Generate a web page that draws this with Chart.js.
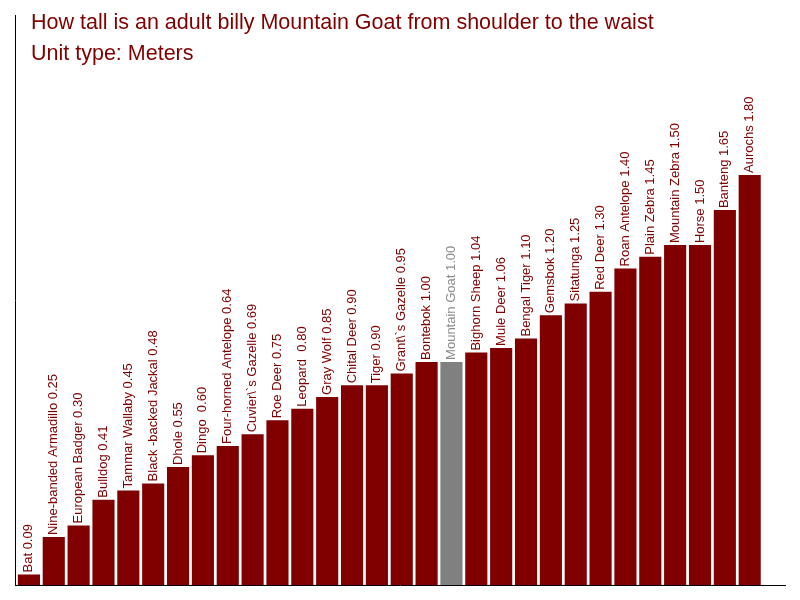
<!DOCTYPE html>
<html>
<head>
<meta charset="utf-8">
<script src="https://cdn.jsdelivr.net/npm/chart.js@4"></script>
<style>
  html, body { margin: 0; padding: 0; background: #fff; }
  canvas { display: block; }
</style>
</head>
<body>
<canvas id="goatChart" width="800" height="600"></canvas>
<script>
// animal names and shoulder heights (m)
const animals = [
    'Bat', 'Nine-banded Armadillo', 'European Badger', 'Bulldog', 'Tammar Wallaby',
    'Black -backed Jackal', 'Dhole', 'Dingo ', 'Four-horned Antelope', 'Cuvier\\`s Gazelle',
    'Roe Deer', 'Leopard ', 'Gray Wolf', 'Chital Deer', 'Tiger',
    'Grant\\`s Gazelle', 'Bontebok', 'Mountain Goat', 'Bighorn Sheep', 'Mule Deer',
    'Bengal Tiger', 'Gemsbok', 'Sitatunga', 'Red Deer', 'Roan Antelope',
    'Plain Zebra', 'Mountain Zebra', 'Horse', 'Banteng', 'Aurochs'
];
const heights = [
    0.09, 0.25, 0.30, 0.41, 0.45,
    0.48, 0.55, 0.60, 0.64, 0.69,
    0.75, 0.80, 0.85, 0.90, 0.90,
    0.95, 1.00, 1.00, 1.04, 1.06,
    1.10, 1.20, 1.25, 1.30, 1.40,
    1.45, 1.50, 1.50, 1.65, 1.80
];
const highlight = 'Mountain Goat';
const titleLines = [
    'How tall is an adult billy Mountain Goat from shoulder to the waist',
    'Unit type: Meters'
];

const barColor = '#800000';
const goatColor = '#808080';

const points = heights.map((h, i) => ({ x: i, y: h }));
const colors = animals.map(a => a === highlight ? goatColor : barColor);

// labels standing on top of each bar, rotated
const barLabels = {
    id: 'barLabels',
    afterDatasetsDraw(chart) {
        const ctx = chart.ctx;
        const meta = chart.getDatasetMeta(0);
        ctx.save();
        ctx.font = '13px "Liberation Sans", Arial, sans-serif';
        ctx.textBaseline = 'middle';
        ctx.textAlign = 'left';
        meta.data.forEach((bar, i) => {
            ctx.fillStyle = animals[i] === highlight ? '#8c8c8c' : barColor;
            ctx.save();
            ctx.translate(bar.x, bar.y - 2);
            ctx.rotate(-Math.PI / 2);
            ctx.fillText(animals[i] + ' ' + heights[i].toFixed(2), 0, 0);
            ctx.restore();
        });
        ctx.restore();
    }
};

// title sits inside the plot area
const innerTitle = {
    id: 'innerTitle',
    afterDraw(chart) {
        const ctx = chart.ctx;
        const area = chart.chartArea;
        ctx.save();
        ctx.font = '21.5px "Liberation Sans", Arial, sans-serif';
        ctx.fillStyle = barColor;
        ctx.textBaseline = 'middle';
        titleLines.forEach((t, i) => {
            ctx.fillText(t, area.left + 16, area.top + 8 + i * 31);
        });
        ctx.restore();
    }
};

new Chart(document.getElementById('goatChart'), {
    type: 'bar',
    data: {
        datasets: [{
            data: points,
            backgroundColor: colors,
            barPercentage: 0.89,
            categoryPercentage: 1.0
        }]
    },
    options: {
        responsive: false,
        animation: false,
        layout: { padding: { left: 15, top: 15, right: 15, bottom: 15 } },
        plugins: {
            legend: { display: false },
            tooltip: { enabled: false }
        },
        scales: {
            x: {
                type: 'linear',
                offset: false,
                min: -0.56,
                max: 30.42,
                grid: { display: false, drawTicks: false },
                border: { display: true, color: '#000', width: 1 },
                ticks: { display: false }
            },
            y: {
                min: 0.045,
                max: 2.485,
                grid: { display: false, drawTicks: false },
                border: { display: true, color: '#000', width: 1 },
                ticks: { display: false }
            }
        }
    },
    plugins: [barLabels, innerTitle]
});
</script>
</body>
</html>
